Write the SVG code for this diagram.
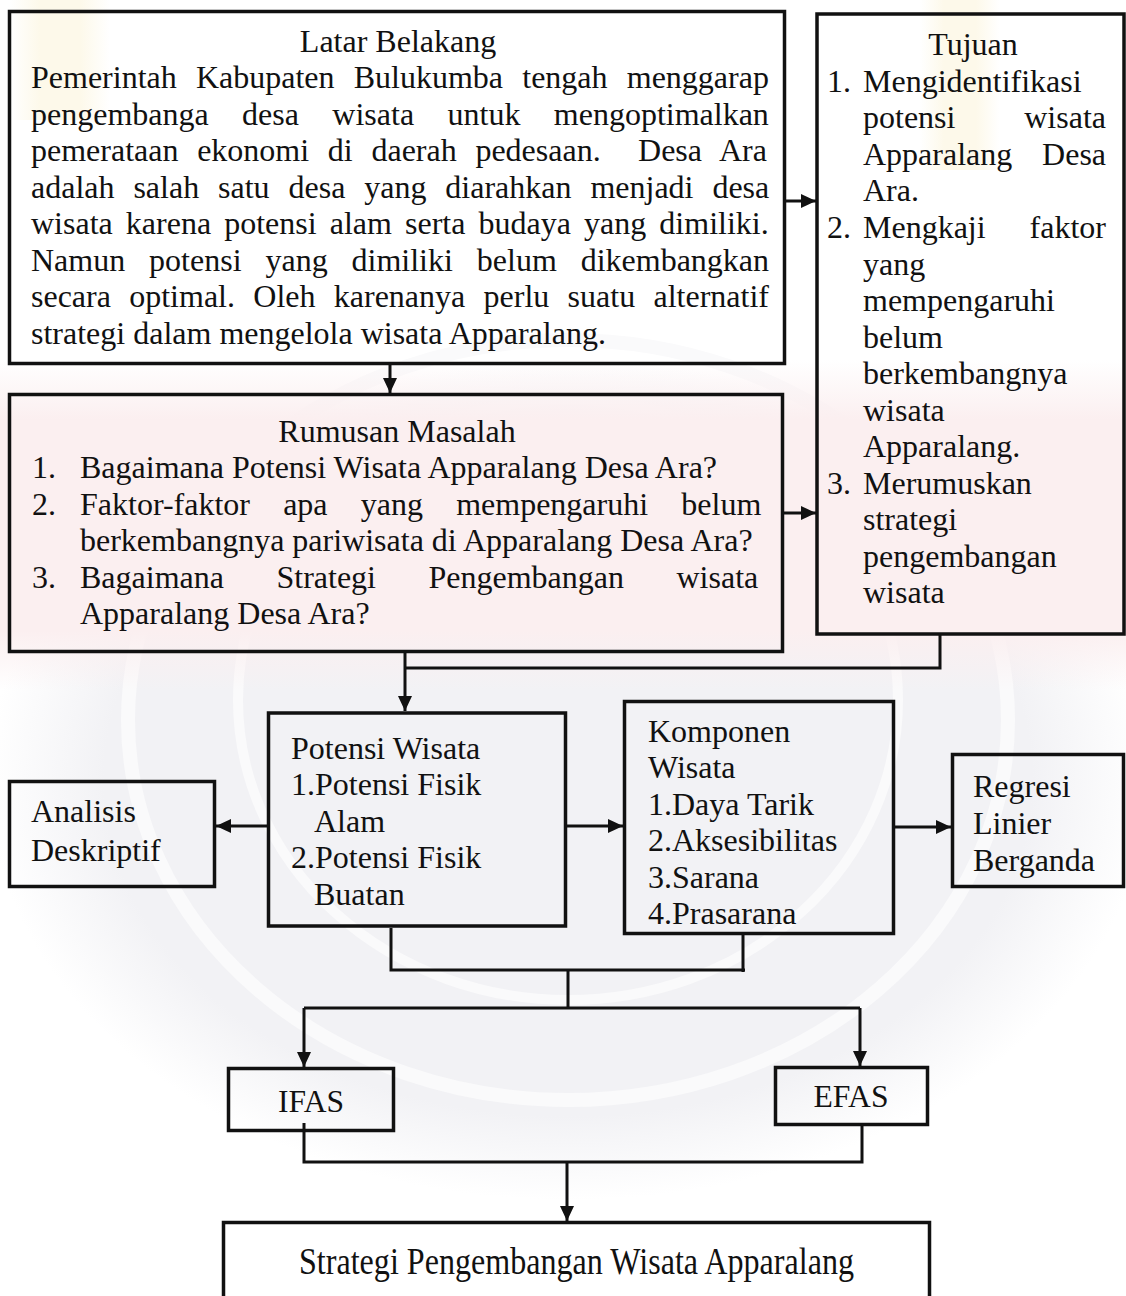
<svg xmlns="http://www.w3.org/2000/svg" width="1126" height="1296" viewBox="0 0 1126 1296">
<style>
.box{fill:none;stroke:#111;stroke-width:3.5}
.t{font-family:"Liberation Serif","Times New Roman",serif;font-size:32px;fill:#111}
.c{text-anchor:middle}
.ln{fill:none;stroke:#111;stroke-width:3}
.ar{fill:none;stroke:#111;stroke-width:3;marker-end:url(#ah)}
</style>
<defs>
<marker id="ah" markerUnits="userSpaceOnUse" markerWidth="16" markerHeight="14" refX="15" refY="7" orient="auto">
<path d="M0,0 L15,7 L0,14 z" fill="#111"/>
</marker>
<linearGradient id="pinkfade" x1="0" y1="0" x2="0" y2="1">
<stop offset="0" stop-color="#fbeff0" stop-opacity="0"/>
<stop offset="0.18" stop-color="#fbeff0" stop-opacity="1"/>
<stop offset="0.82" stop-color="#fbeff0" stop-opacity="1"/>
<stop offset="1" stop-color="#fbeff0" stop-opacity="0"/>
</linearGradient>
<radialGradient id="greyfade" cx="0.5" cy="0.5" r="0.5">
<stop offset="0" stop-color="#f2f2f5" stop-opacity="1"/>
<stop offset="0.8" stop-color="#f2f2f5" stop-opacity="1"/>
<stop offset="1" stop-color="#f2f2f5" stop-opacity="0"/>
</radialGradient>
<linearGradient id="yelfade" x1="0" y1="0" x2="1" y2="0">
<stop offset="0" stop-color="#fdf9ea" stop-opacity="0"/>
<stop offset="0.3" stop-color="#fdf9ea" stop-opacity="1"/>
<stop offset="0.7" stop-color="#fdf9ea" stop-opacity="1"/>
<stop offset="1" stop-color="#fdf9ea" stop-opacity="0"/>
</linearGradient>
</defs>
<rect width="1126" height="1296" fill="#fff"/>

<g id="watermark">
<ellipse cx="568" cy="780" rx="580" ry="420" fill="url(#greyfade)"/>
<ellipse cx="568" cy="720" rx="440" ry="380" fill="none" stroke="#fafafb" stroke-width="14"/>
<ellipse cx="568" cy="700" rx="330" ry="300" fill="none" stroke="#fafafb" stroke-width="10"/>
<rect x="0" y="360" width="1126" height="330" fill="url(#pinkfade)"/>
<rect x="10" y="0" width="100" height="120" fill="url(#yelfade)"/>
<rect x="920" y="0" width="80" height="170" fill="url(#yelfade)"/>
</g>

<g id="latar-belakang">
<rect class="box" x="9.5" y="11.5" width="775" height="352"/>
<text class="t c" x="398" y="52">Latar Belakang</text>
<text class="t" x="31" y="88" word-spacing="11.2">Pemerintah Kabupaten Bulukumba tengah menggarap</text>
<text class="t" x="31" y="125" word-spacing="25.4">pengembanga desa wisata untuk mengoptimalkan</text>
<text class="t" x="31" y="161" word-spacing="10.7" xml:space="preserve">pemerataan ekonomi di daerah pedesaan.  Desa Ara</text>
<text class="t" x="31" y="198" word-spacing="10.9">adalah salah satu desa yang diarahkan menjadi desa</text>
<text class="t" x="31" y="234" word-spacing="5.1">wisata karena potensi alam serta budaya yang dimiliki.</text>
<text class="t" x="31" y="271" word-spacing="15.9">Namun potensi yang dimiliki belum dikembangkan</text>
<text class="t" x="31" y="307" word-spacing="10.3">secara optimal. Oleh karenanya perlu suatu alternatif</text>
<text class="t" x="31" y="344">strategi dalam mengelola wisata Apparalang.</text>
</g>

<g id="tujuan">
<rect class="box" x="817" y="14" width="307" height="620"/>
<text class="t c" x="973" y="55">Tujuan</text>
<text class="t" x="827" y="92">1.</text>
<text class="t" x="863" y="92">Mengidentifikasi</text>
<text class="t" x="863" y="128" word-spacing="60.8">potensi wisata</text>
<text class="t" x="863" y="165" word-spacing="21.8">Apparalang Desa</text>
<text class="t" x="863" y="201">Ara.</text>
<text class="t" x="827" y="238">2.</text>
<text class="t" x="863" y="238" word-spacing="35.9">Mengkaji faktor</text>
<text class="t" x="863" y="275">yang</text>
<text class="t" x="863" y="311">mempengaruhi</text>
<text class="t" x="863" y="348">belum</text>
<text class="t" x="863" y="384">berkembangnya</text>
<text class="t" x="863" y="421">wisata</text>
<text class="t" x="863" y="457">Apparalang.</text>
<text class="t" x="827" y="494">3.</text>
<text class="t" x="863" y="494">Merumuskan</text>
<text class="t" x="863" y="530">strategi</text>
<text class="t" x="863" y="567">pengembangan</text>
<text class="t" x="863" y="603">wisata</text>
</g>

<g id="rumusan-masalah">
<rect class="box" x="9.5" y="394.5" width="773" height="257"/>
<text class="t c" x="397" y="442">Rumusan Masalah</text>
<text class="t" x="32" y="478">1.</text>
<text class="t" x="80" y="478">Bagaimana Potensi Wisata Apparalang Desa Ara?</text>
<text class="t" x="32" y="515">2.</text>
<text class="t" x="80" y="515" word-spacing="25.2">Faktor-faktor apa yang mempengaruhi belum</text>
<text class="t" x="80" y="551">berkembangnya pariwisata di Apparalang Desa Ara?</text>
<text class="t" x="32" y="588">3.</text>
<text class="t" x="80" y="588" word-spacing="44.5">Bagaimana Strategi Pengembangan wisata</text>
<text class="t" x="80" y="624">Apparalang Desa Ara?</text>
</g>

<g id="potensi-wisata">
<rect class="box" x="268.5" y="713" width="297" height="213"/>
<text class="t" x="291" y="759">Potensi Wisata</text>
<text class="t" x="291" y="795">1.Potensi Fisik</text>
<text class="t" x="314" y="832">Alam</text>
<text class="t" x="291" y="868">2.Potensi Fisik</text>
<text class="t" x="314" y="905">Buatan</text>
</g>

<g id="komponen-wisata">
<rect class="box" x="624.5" y="701.5" width="269" height="232"/>
<text class="t" x="648" y="742">Komponen</text>
<text class="t" x="648" y="778">Wisata</text>
<text class="t" x="648" y="815">1.Daya Tarik</text>
<text class="t" x="648" y="851">2.Aksesibilitas</text>
<text class="t" x="648" y="888">3.Sarana</text>
<text class="t" x="648" y="924">4.Prasarana</text>
</g>

<g id="analisis-deskriptif">
<rect class="box" x="9.5" y="781.5" width="205" height="105"/>
<text class="t" x="31" y="822">Analisis</text>
<text class="t" x="31" y="861">Deskriptif</text>
</g>

<g id="regresi">
<rect class="box" x="952.5" y="754.5" width="171" height="132"/>
<text class="t" x="973" y="797">Regresi</text>
<text class="t" x="973" y="834">Linier</text>
<text class="t" x="973" y="871">Berganda</text>
</g>

<g id="ifas">
<rect class="box" x="228.5" y="1068.5" width="165" height="62"/>
<text class="t c" x="311" y="1112" textLength="66" lengthAdjust="spacingAndGlyphs">IFAS</text>
</g>

<g id="efas">
<rect class="box" x="775.5" y="1067.5" width="152" height="57"/>
<text class="t c" x="851" y="1107" textLength="75" lengthAdjust="spacingAndGlyphs">EFAS</text>
</g>

<g id="strategi">
<rect class="box" x="223.5" y="1222.5" width="706" height="90"/>
<text class="t" x="299" y="1274" style="font-size:37px" textLength="555" lengthAdjust="spacingAndGlyphs">Strategi Pengembangan Wisata Apparalang</text>
</g>

<g id="connectors">
<path class="ar" d="M390,365 V393"/>
<path class="ar" d="M786,201 H816"/>
<path class="ar" d="M784,513 H816"/>
<path class="ln" d="M405,653 V668"/>
<path class="ln" d="M940,635 V668 H405"/>
<path class="ar" d="M405,668 V711"/>
<path class="ar" d="M267,826 H216"/>
<path class="ar" d="M567,826 H623"/>
<path class="ar" d="M895,827 H951"/>
<path class="ln" d="M391,928 V970 H745"/>
<path class="ln" d="M743,935 V972"/>
<path class="ln" d="M568,970 V1008"/>
<path class="ln" d="M304,1008 H860"/>
<path class="ar" d="M304,1008 V1067"/>
<path class="ar" d="M860,1008 V1066"/>
<path class="ln" d="M304,1123 V1162 H862 V1126"/>
<path class="ar" d="M567,1162 V1221"/>
</g>
</svg>
